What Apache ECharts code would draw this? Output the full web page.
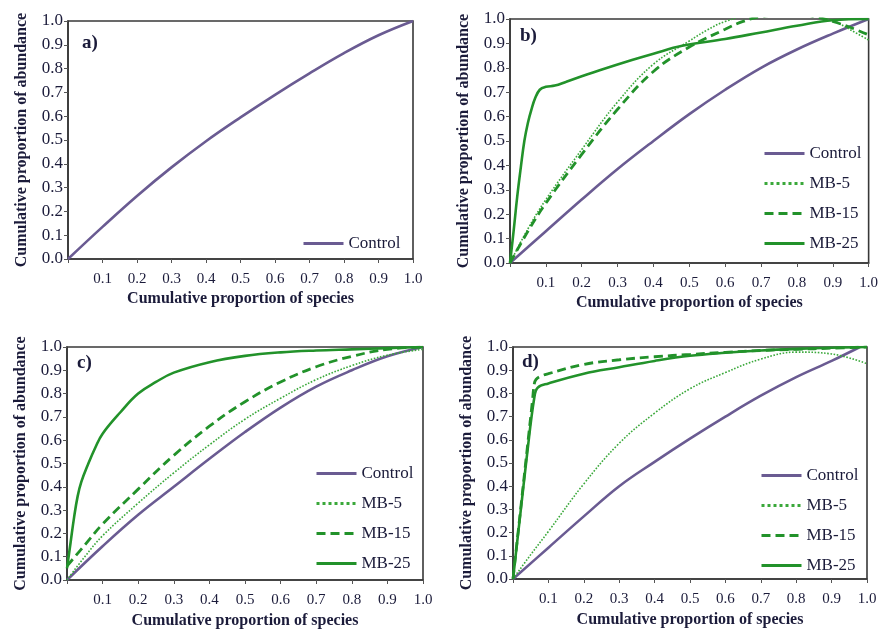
<!DOCTYPE html>
<html>
<head>
<meta charset="utf-8">
<script src="https://cdn.jsdelivr.net/npm/echarts@6/dist/echarts.min.js"></script>
<style>
html,body{margin:0;padding:0;background:#fff;}
#chart{width:881px;height:630px;}
</style>
</head>
<body>
<div id="chart"></div>
<script>
// ---------- data ----------
var seriesNames = ['Control', 'MB-5', 'MB-15', 'MB-25'];
var panelLabels = ['a)', 'b)', 'c)', 'd)'];
var xTitle = 'Cumulative proportion of species';
var yTitle = 'Cumulative proportion of abundance';

var aControl = [[0,0],[0.1,0.135],[0.2,0.265],[0.3,0.385],[0.4,0.495],[0.5,0.595],[0.6,0.69],[0.7,0.78],[0.8,0.865],[0.9,0.94],[1.0,1.0]];

var bControl = [[0,0],[0.1,0.13],[0.2,0.26],[0.3,0.385],[0.4,0.5],[0.5,0.61],[0.6,0.71],[0.7,0.8],[0.8,0.875],[0.9,0.94],[1.0,1.0]];
var bMB5 = [[0,0],[0.05,0.14],[0.1,0.26],[0.2,0.465],[0.3,0.66],[0.4,0.815],[0.5,0.91],[0.55,0.955],[0.6,0.99],[0.7,1.03],[0.8,1.04],[0.85,1.02],[0.9,0.995],[0.95,0.955],[1.0,0.914]];
var bMB15 = [[0,0],[0.05,0.13],[0.1,0.245],[0.2,0.445],[0.3,0.63],[0.4,0.785],[0.5,0.885],[0.6,0.958],[0.65,0.99],[0.7,1.01],[0.8,1.02],[0.85,1.01],[0.9,0.99],[0.95,0.965],[1.0,0.935]];
var bMB25 = [[0,0],[0.01,0.13],[0.02,0.27],[0.03,0.39],[0.04,0.5],[0.05,0.575],[0.06,0.63],[0.07,0.675],[0.083,0.71],[0.1,0.722],[0.125,0.727],[0.157,0.743],[0.2,0.765],[0.25,0.79],[0.34,0.832],[0.4,0.858],[0.48,0.89],[0.6,0.918],[0.7,0.945],[0.8,0.972],[0.9,0.995],[1.0,1.0]];

var cControl = [[0,0],[0.1,0.145],[0.2,0.28],[0.3,0.4],[0.4,0.52],[0.5,0.635],[0.6,0.74],[0.7,0.83],[0.8,0.9],[0.9,0.96],[1.0,1.0]];
var cMB5 = [[0,0],[0.05,0.1],[0.1,0.19],[0.2,0.33],[0.3,0.46],[0.4,0.58],[0.5,0.69],[0.6,0.78],[0.7,0.86],[0.8,0.92],[0.9,0.965],[1.0,0.99]];
var cMB15 = [[0,0.06],[0.05,0.15],[0.1,0.24],[0.2,0.39],[0.3,0.535],[0.4,0.66],[0.5,0.765],[0.6,0.85],[0.7,0.915],[0.8,0.96],[0.9,0.99],[1.0,1.0]];
var cMB25 = [[0,0.05],[0.01,0.16],[0.02,0.27],[0.03,0.36],[0.04,0.42],[0.06,0.5],[0.08,0.57],[0.1,0.628],[0.15,0.72],[0.2,0.8],[0.25,0.85],[0.3,0.89],[0.4,0.935],[0.5,0.962],[0.6,0.977],[0.7,0.985],[0.8,0.99],[0.9,0.995],[1.0,1.0]];

var dControl = [[0,0],[0.1,0.135],[0.2,0.27],[0.3,0.4],[0.4,0.505],[0.5,0.605],[0.6,0.7],[0.7,0.79],[0.8,0.87],[0.9,0.94],[0.98,1.0]];
var dMB5 = [[0,0],[0.05,0.105],[0.1,0.205],[0.2,0.41],[0.3,0.585],[0.4,0.715],[0.5,0.82],[0.6,0.89],[0.7,0.948],[0.8,0.978],[0.9,0.97],[1.0,0.928]];
var dMB15 = [[0,0],[0.02,0.28],[0.04,0.56],[0.055,0.77],[0.06,0.84],[0.065,0.86],[0.08,0.875],[0.1,0.885],[0.2,0.925],[0.3,0.945],[0.4,0.958],[0.5,0.968],[0.6,0.977],[0.7,0.985],[0.8,0.99],[0.9,0.995],[1.0,1.0]];
var dMB25 = [[0,0],[0.02,0.27],[0.04,0.54],[0.06,0.78],[0.07,0.825],[0.1,0.843],[0.2,0.885],[0.3,0.913],[0.4,0.94],[0.5,0.962],[0.6,0.975],[0.7,0.985],[0.8,0.992],[0.9,0.997],[1.0,1.0]];

var panelSeries = [
  {Control: aControl},
  {Control: bControl, 'MB-5': bMB5, 'MB-15': bMB15, 'MB-25': bMB25},
  {Control: cControl, 'MB-5': cMB5, 'MB-15': cMB15, 'MB-25': cMB25},
  {Control: dControl, 'MB-5': dMB5, 'MB-15': dMB15, 'MB-25': dMB25}
];

// ---------- layout / style ----------
var FONT = 'Liberation Serif';
var TXT = '#1b1b3a';
var grids = [
  {left: 68, top: 21, width: 345, height: 238},
  {left: 510, top: 19, width: 362, height: 244},
  {left: 67, top: 347, width: 356, height: 236},
  {left: 513, top: 347, width: 354, height: 232}
];
var legendPos = [
  {left: 302, top: 235},
  {left: 763, top: 145},
  {left: 315, top: 465},
  {left: 760, top: 467}
];
var labelPos = [[82, 34], [520, 27], [77, 354], [522, 353]];

var styles = {
  'Control': {color: '#6a5b92', width: 2.6, type: 'solid'},
  'MB-5': {color: '#3aa83a', width: 1.6, type: 'dotted'},
  'MB-15': {color: '#22922a', width: 2.8, type: [9, 5]},
  'MB-25': {color: '#22922a', width: 2.6, type: 'solid'}
};

var xAxes = [], yAxes = [], series = [], legends = [], graphics = [];
grids.forEach(function (g, i) {
  var bottomRow = i >= 2;
  xAxes.push({
    gridIndex: i, type: 'value', min: 0, max: 1, interval: 0.1,
    name: xTitle, nameLocation: 'middle', nameGap: bottomRow ? 33 : 32,
    nameTextStyle: {fontFamily: FONT, fontWeight: 'bold', fontSize: 16, color: TXT},
    axisLine: {show: true, lineStyle: {color: '#383838', width: 1.6}},
    axisTick: {show: true, length: 4, lineStyle: {color: '#555'}},
    splitLine: {show: false},
    axisLabel: {fontFamily: FONT, fontSize: 15, color: TXT, margin: 13,
      formatter: function (v) { return v === 0 ? '' : v.toFixed(1); }}
  });
  yAxes.push({
    gridIndex: i, type: 'value', min: 0, max: 1, interval: 0.1,
    name: yTitle, nameLocation: 'middle', nameGap: 38,
    nameTextStyle: {fontFamily: FONT, fontWeight: 'bold', fontSize: 16, color: TXT},
    axisLine: {show: true, lineStyle: {color: '#383838', width: 1.6}},
    axisTick: {show: true, length: 4, lineStyle: {color: '#555'}},
    splitLine: {show: false},
    axisLabel: {fontFamily: FONT, fontSize: 17, color: TXT, margin: 5,
      formatter: function (v) { return v.toFixed(1); }}
  });
  var names = Object.keys(panelSeries[i]);
  names.forEach(function (n) {
    var s = styles[n];
    series.push({
      name: n, type: 'line', xAxisIndex: i, yAxisIndex: i,
      data: panelSeries[i][n], symbol: 'none', showSymbol: false,
      smooth: 0.4, clip: true, silent: true,
      lineStyle: {color: s.color, width: s.width, type: s.type},
      itemStyle: {color: s.color},
      z: n === 'Control' ? 3 : 4
    });
  });
  legends.push({
    data: names, orient: 'vertical', left: legendPos[i].left, top: legendPos[i].top,
    padding: 0, itemWidth: 40, itemHeight: 14, itemGap: 13, selectedMode: false,
    itemStyle: {opacity: 0},
    lineStyle: {width: 3},
    textStyle: {fontFamily: FONT, fontSize: 17, color: TXT}
  });
  graphics.push({
    type: 'text', left: labelPos[i][0], top: labelPos[i][1],
    style: {text: panelLabels[i], font: 'bold 19px "Liberation Serif"', fill: TXT}
  });
});

var chart = echarts.init(document.getElementById('chart'), null, {renderer: 'canvas'});
chart.setOption({
  backgroundColor: '#fff',
  animation: false,
  grid: grids.map(function (g) {
    return Object.assign({show: true, borderColor: '#383838', borderWidth: 1.6, backgroundColor: 'transparent'}, g);
  }),
  xAxis: xAxes,
  yAxis: yAxes,
  legend: legends,
  series: series,
  graphic: graphics
});
</script>
</body>
</html>
